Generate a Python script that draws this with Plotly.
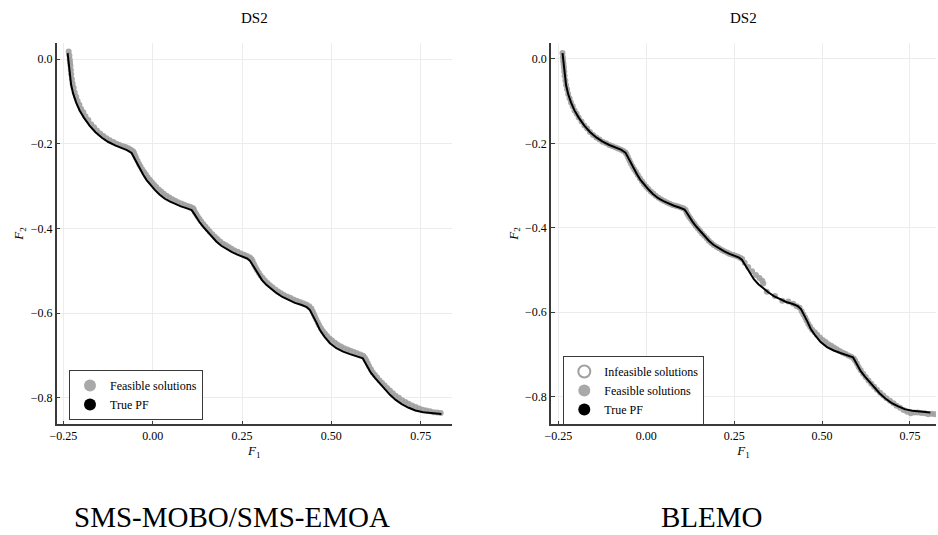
import plotly.graph_objects as go

# ---------------- data ----------------
pf_x = [-0.238, -0.236, -0.234, -0.232, -0.228, -0.222, -0.214, -0.204, -0.192, -0.176, -0.160, -0.142, -0.124, -0.105, -0.087, -0.072, -0.059,
        -0.054, -0.049, -0.042, -0.035, -0.026, -0.017, -0.006, 0.006, 0.019, 0.034, 0.049, 0.064, 0.079, 0.094, 0.109,
        0.115, 0.122, 0.131, 0.141, 0.153, 0.165, 0.178, 0.192, 0.207, 0.222, 0.237, 0.252, 0.264, 0.272,
        0.277, 0.282, 0.289, 0.296, 0.306, 0.319, 0.333, 0.347, 0.363, 0.380, 0.398, 0.417, 0.431, 0.440,
        0.445, 0.450, 0.458, 0.468, 0.481, 0.496, 0.514, 0.533, 0.552, 0.571, 0.588,
        0.594, 0.601, 0.610, 0.622, 0.636, 0.650, 0.664, 0.680, 0.697, 0.715, 0.735, 0.757, 0.780, 0.808]
pf_y = [0.014, -0.005, -0.020, -0.040, -0.062, -0.083, -0.103, -0.122, -0.139, -0.158, -0.173, -0.186, -0.196, -0.204, -0.210, -0.215, -0.222,
        -0.230, -0.239, -0.251, -0.262, -0.274, -0.286, -0.298, -0.309, -0.320, -0.330, -0.337, -0.343, -0.348, -0.352, -0.357,
        -0.364, -0.374, -0.385, -0.396, -0.408, -0.420, -0.431, -0.441, -0.449, -0.456, -0.462, -0.467, -0.471, -0.476,
        -0.483, -0.491, -0.501, -0.511, -0.522, -0.534, -0.544, -0.553, -0.562, -0.569, -0.576, -0.581, -0.586, -0.593,
        -0.600, -0.609, -0.622, -0.640, -0.656, -0.671, -0.683, -0.691, -0.697, -0.702, -0.707,
        -0.716, -0.727, -0.740, -0.753, -0.766, -0.779, -0.793, -0.805, -0.815, -0.823, -0.830, -0.834, -0.836, -0.838]

sms_x = [-0.235, -0.233, -0.232, -0.231, -0.230, -0.229, -0.228, -0.226, -0.224, -0.221, -0.218, -0.214, -0.210, -0.205, -0.200, -0.194, -0.188,
         -0.180, -0.172, -0.164, -0.156, -0.147, -0.138, -0.129, -0.120, -0.110, -0.101, -0.092, -0.083, -0.076, -0.068, -0.061, -0.055,
         -0.052, -0.049, -0.046, -0.042, -0.038, -0.034, -0.029, -0.024, -0.019, -0.014, -0.008, -0.002, 0.004, 0.010, 0.017, 0.024,
         0.031, 0.039, 0.047, 0.055, 0.063, 0.071, 0.080, 0.089, 0.097, 0.105, 0.112,
         0.115, 0.118, 0.122, 0.126, 0.131, 0.136, 0.142, 0.148, 0.154, 0.160, 0.167, 0.174, 0.181, 0.189, 0.197, 0.205, 0.213,
         0.221, 0.229, 0.238, 0.247, 0.256, 0.264, 0.272, 0.277,
         0.280, 0.284, 0.288, 0.292, 0.297, 0.302, 0.308, 0.314, 0.321, 0.328, 0.335, 0.343, 0.351, 0.359, 0.367, 0.376, 0.385,
         0.394, 0.403, 0.412, 0.421, 0.430, 0.438, 0.444,
         0.448, 0.451, 0.454, 0.458, 0.462, 0.466, 0.471, 0.476, 0.482, 0.488, 0.495, 0.502, 0.510, 0.518, 0.527, 0.536, 0.545,
         0.554, 0.563, 0.572, 0.581, 0.589, 0.594,
         0.598, 0.602, 0.606, 0.611, 0.616, 0.622, 0.628, 0.635, 0.642, 0.649, 0.656, 0.664, 0.672, 0.680, 0.689, 0.698, 0.707,
         0.716, 0.726, 0.736, 0.746, 0.756, 0.766, 0.776, 0.786, 0.796, 0.806]
sms_y = [0.018, 0.008, -0.001, -0.008, -0.016, -0.026, -0.036, -0.047, -0.058, -0.068, -0.079, -0.089, -0.099, -0.108, -0.118, -0.126, -0.135,
         -0.144, -0.154, -0.161, -0.169, -0.176, -0.182, -0.187, -0.192, -0.196, -0.200, -0.203, -0.206, -0.208, -0.211, -0.214, -0.218,
         -0.222, -0.228, -0.234, -0.241, -0.248, -0.254, -0.261, -0.267, -0.273, -0.279, -0.285, -0.291, -0.297, -0.302, -0.308, -0.313,
         -0.318, -0.323, -0.327, -0.331, -0.335, -0.338, -0.341, -0.344, -0.347, -0.349, -0.352,
         -0.355, -0.361, -0.366, -0.372, -0.378, -0.384, -0.390, -0.396, -0.402, -0.408, -0.414, -0.420, -0.425, -0.431, -0.436, -0.440, -0.444,
         -0.448, -0.452, -0.455, -0.459, -0.462, -0.465, -0.469, -0.473,
         -0.478, -0.485, -0.492, -0.498, -0.505, -0.511, -0.517, -0.523, -0.529, -0.534, -0.539, -0.544, -0.549, -0.553, -0.557, -0.561, -0.564,
         -0.568, -0.571, -0.574, -0.577, -0.580, -0.584, -0.589,
         -0.596, -0.602, -0.608, -0.615, -0.622, -0.629, -0.636, -0.642, -0.648, -0.654, -0.660, -0.665, -0.670, -0.675, -0.679, -0.683, -0.686,
         -0.689, -0.692, -0.695, -0.698, -0.701, -0.706,
         -0.712, -0.719, -0.726, -0.733, -0.740, -0.746, -0.752, -0.759, -0.765, -0.771, -0.777, -0.783, -0.789, -0.795, -0.800, -0.806, -0.810,
         -0.814, -0.818, -0.822, -0.825, -0.828, -0.830, -0.832, -0.834, -0.835, -0.836]

blemo_x = [-0.238, -0.237, -0.236, -0.235, -0.234, -0.233, -0.232, -0.230, -0.228, -0.225, -0.222, -0.218, -0.214, -0.209, -0.204, -0.198, -0.192,
           -0.184, -0.176, -0.168, -0.160, -0.151, -0.142, -0.133, -0.124, -0.114, -0.105, -0.096, -0.087, -0.080, -0.072, -0.065, -0.059,
           -0.056, -0.052, -0.048, -0.044, -0.039, -0.034, -0.029, -0.024, -0.018, -0.012, -0.006, 0.000, 0.006, 0.013, 0.020, 0.027,
           0.035, 0.043, 0.051, 0.059, 0.067, 0.075, 0.083, 0.091, 0.099, 0.106, 0.112,
           0.115, 0.118, 0.122, 0.126, 0.131, 0.136, 0.141, 0.147, 0.153, 0.159, 0.165, 0.172, 0.178, 0.185, 0.192, 0.200, 0.207,
           0.215, 0.222, 0.230, 0.237, 0.245, 0.252, 0.260, 0.267, 0.273,
           0.280, 0.290, 0.301, 0.312, 0.322, 0.330, 0.333, 0.343, 0.366, 0.387, 0.404, 0.418, 0.428, 0.436, 0.442,
           0.447, 0.452, 0.456, 0.461, 0.466, 0.472, 0.479, 0.486, 0.494, 0.502, 0.510, 0.518, 0.526, 0.534, 0.542, 0.550, 0.558,
           0.566, 0.575, 0.583, 0.590, 0.594,
           0.599, 0.604, 0.610, 0.617, 0.624, 0.632, 0.640, 0.648, 0.656, 0.665, 0.674, 0.683, 0.693, 0.703, 0.712, 0.722, 0.732,
           0.742, 0.752, 0.762, 0.772, 0.782, 0.792, 0.802, 0.812, 0.821]
blemo_y = [0.014, 0.004, -0.005, -0.012, -0.020, -0.030, -0.040, -0.051, -0.062, -0.072, -0.083, -0.093, -0.103, -0.112, -0.122, -0.130, -0.139,
           -0.148, -0.158, -0.165, -0.173, -0.180, -0.186, -0.191, -0.196, -0.200, -0.204, -0.207, -0.210, -0.212, -0.215, -0.218, -0.222,
           -0.226, -0.233, -0.240, -0.247, -0.255, -0.262, -0.268, -0.275, -0.283, -0.290, -0.297, -0.303, -0.308, -0.314, -0.319, -0.324,
           -0.329, -0.333, -0.337, -0.340, -0.343, -0.346, -0.348, -0.350, -0.352, -0.354, -0.358,
           -0.364, -0.369, -0.374, -0.379, -0.385, -0.390, -0.396, -0.402, -0.408, -0.414, -0.419, -0.425, -0.431, -0.436, -0.441, -0.445, -0.449,
           -0.453, -0.456, -0.459, -0.462, -0.464, -0.466, -0.468, -0.471, -0.474,
           -0.483, -0.493, -0.503, -0.512, -0.519, -0.526, -0.532, -0.552, -0.562, -0.573, -0.575, -0.580, -0.586, -0.590, -0.598,
           -0.606, -0.613, -0.620, -0.628, -0.635, -0.642, -0.648, -0.654, -0.660, -0.666, -0.671, -0.676, -0.680, -0.684, -0.688, -0.692, -0.696,
           -0.699, -0.703, -0.706, -0.710, -0.715,
           -0.722, -0.730, -0.738, -0.746, -0.754, -0.762, -0.770, -0.777, -0.784, -0.791, -0.798, -0.804, -0.810, -0.816, -0.822, -0.827, -0.832,
           -0.836, -0.840, -0.838, -0.838, -0.839, -0.840, -0.842, -0.841, -0.842]

x_ticks = [-0.25, 0.0, 0.25, 0.5, 0.75]
x_ticktext = ["\u22120.25", "0.00", "0.25", "0.50", "0.75"]
y_ticks = [0.0, -0.2, -0.4, -0.6, -0.8]
y_ticktext = ["0.0", "\u22120.2", "\u22120.4", "\u22120.6", "\u22120.8"]
panel_titles = ["DS2", "DS2"]
captions = ["SMS-MOBO/SMS-EMOA", "BLEMO"]

# ---------------- styling ----------------
SERIF = "Liberation Serif"
GRAY = "rgba(160,160,160,0.9)"
AX = "#3a3a3a"
W, H = 938, 535

fig = go.Figure()

# left panel
fig.add_trace(go.Scatter(x=sms_x, y=sms_y, mode="markers", name="Feasible solutions",
                         marker=dict(color=GRAY, size=6, line=dict(width=0)),
                         xaxis="x", yaxis="y", legend="legend"))
fig.add_trace(go.Scatter(x=pf_x, y=pf_y, mode="lines", showlegend=False,
                         line=dict(color="black", width=2), xaxis="x", yaxis="y"))
fig.add_trace(go.Scatter(x=[None], y=[None], mode="markers", name="True PF",
                         marker=dict(color="black", size=8), xaxis="x", yaxis="y", legend="legend"))

# right panel
fig.add_trace(go.Scatter(x=[None], y=[None], mode="markers", name="Infeasible solutions",
                         marker=dict(color="white", size=8, line=dict(color="#a0a0a0", width=1.5)),
                         xaxis="x2", yaxis="y2", legend="legend2"))
fig.add_trace(go.Scatter(x=blemo_x, y=blemo_y, mode="markers", name="Feasible solutions",
                         marker=dict(color=GRAY, size=6, line=dict(width=0)),
                         xaxis="x2", yaxis="y2", legend="legend2"))
fig.add_trace(go.Scatter(x=pf_x, y=pf_y, mode="lines", showlegend=False,
                         line=dict(color="black", width=2), xaxis="x2", yaxis="y2"))
fig.add_trace(go.Scatter(x=[None], y=[None], mode="markers", name="True PF",
                         marker=dict(color="black", size=8), xaxis="x2", yaxis="y2", legend="legend2"))

axis_common = dict(showline=True, linecolor=AX, linewidth=1.5, mirror=False,
                   ticks="inside", ticklen=4, tickcolor=AX, tickwidth=1, automargin=False,
                   showgrid=True, gridcolor="#ececec", gridwidth=1, zeroline=False,
                   tickfont=dict(family=SERIF, size=12, color="black"))

ydom = [(H - 424.3) / H, (H - 42.7) / H]
ftitle = dict(family=SERIF, size=13, color="black")
fig.update_layout(
    width=W, height=H, margin=dict(l=0, r=0, t=0, b=0, autoexpand=False),
    paper_bgcolor="white", plot_bgcolor="white",
    xaxis=dict(domain=[56.7 / W, 452 / W], range=[-0.2685, 0.8376], tickvals=x_ticks, ticktext=x_ticktext,
               title=dict(text="<i>F</i><sub>1</sub>", font=ftitle, standoff=0),
               anchor="y", **axis_common),
    yaxis=dict(domain=ydom, range=[-0.8626, 0.0385], tickvals=y_ticks, ticktext=y_ticktext,
               title=dict(text="<i>F</i><sub>2</sub>", font=ftitle, standoff=4),
               anchor="x", **axis_common),
    xaxis2=dict(domain=[551 / W, 936 / W], range=[-0.2708, 0.824], tickvals=x_ticks, ticktext=x_ticktext,
                title=dict(text="<i>F</i><sub>1</sub>", font=ftitle, standoff=0),
                anchor="y2", **axis_common),
    yaxis2=dict(domain=ydom, range=[-0.866, 0.0385], tickvals=y_ticks, ticktext=y_ticktext,
                title=dict(text="<i>F</i><sub>2</sub>", font=ftitle, standoff=4),
                anchor="x2", **axis_common),
    legend=dict(x=69 / W, y=(H - 370) / H, xanchor="left", yanchor="top", bgcolor="white",
                bordercolor=AX, borderwidth=1, font=dict(family=SERIF, size=12, color="black"),
                itemsizing="constant", tracegroupgap=0),
    legend2=dict(x=563.3 / W, y=(H - 356) / H, xanchor="left", yanchor="top", bgcolor="white",
                 bordercolor=AX, borderwidth=1, font=dict(family=SERIF, size=12, color="black"),
                 itemsizing="constant", tracegroupgap=0),
    showlegend=True,
)

title_x = [254 / W, 743 / W]
for tx, t in zip(title_x, panel_titles):
    fig.add_annotation(text=t, x=tx, y=(H - 18) / H, xref="paper", yref="paper", showarrow=False,
                       xanchor="center", yanchor="middle",
                       font=dict(family=SERIF, size=15, color="black"))
cap_x = [232 / W, 712 / W]
for cx, c in zip(cap_x, captions):
    fig.add_annotation(text=c, x=cx, y=(H - 517) / H, xref="paper", yref="paper", showarrow=False,
                       xanchor="center", yanchor="middle",
                       font=dict(family=SERIF, size=29, color="black"))

fig.write_html("out.html", config={"displayModeBar": False},
               post_script="document.body.style.margin='0';document.body.style.overflow='hidden';")
